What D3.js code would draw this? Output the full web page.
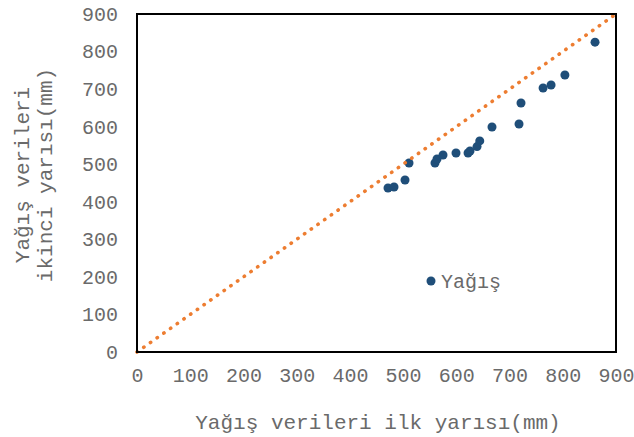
<!DOCTYPE html>
<html><head><meta charset="utf-8">
<script src="https://cdn.jsdelivr.net/npm/d3@7"></script>
<style>body{margin:0;background:#fff}svg{display:block}text{font-family:"Liberation Mono","Courier New",monospace;fill:#6a6a6a}</style>
</head><body><svg id="c" width="634" height="437"></svg>
<script>
const firstHalf  = [471.6,482.9,503.6,511.1,559.9,563.7,575.0,599.4,622.0,625.7,638.9,644.0,667.0,717.8,721.5,763.0,778.0,804.0,860.6];
const secondHalf = [436.6,439.3,457.9,503.2,503.2,513.8,524.5,529.8,529.8,535.1,547.0,562.0,599.0,607.0,663.0,703.0,711.0,737.5,825.0];
const ticks = [0,100,200,300,400,500,600,700,800,900];
const seriesName = "Yağış";
const xTitle = "Yağış verileri ilk yarısı(mm)";
const yTitle = ["Yağış verileri","ikinci yarısı(mm)"];
const refLine = [[0,0],[900,900]];

const svg = d3.select("#c");
const L=137,R=616,T=14,B=352;
const x = d3.scaleLinear().domain([0,900]).range([L,R]);
const y = d3.scaleLinear().domain([0,900]).range([B,T]);
const txt = "#6a6a6a";
const fs = 20;
const xa = svg.append("g").attr("transform",`translate(0,${B})`)
  .call(d3.axisBottom(x).tickValues(ticks).tickSize(0).tickPadding(16));
xa.select(".domain").remove();
xa.selectAll("text").style("font-size",fs+"px").attr("fill",txt).attr("font-family","Liberation Mono");
const ya = svg.append("g").attr("transform",`translate(${L},0)`)
  .call(d3.axisLeft(y).tickValues(ticks).tickSize(0).tickPadding(19));
ya.select(".domain").remove();
ya.selectAll("text").style("font-size",fs+"px").attr("fill",txt).attr("font-family","Liberation Mono");

svg.append("g").selectAll("circle").data(firstHalf).join("circle")
  .attr("cx",d=>x(d)).attr("cy",(d,i)=>y(secondHalf[i])).attr("r",4.5)
  .attr("fill","#1F4E79");

svg.append("path").datum(refLine)
  .attr("d",d3.line().x(d=>x(d[0])).y(d=>y(d[1])))
  .attr("stroke","#ED7D31").attr("stroke-width",3.6).attr("fill","none")
  .attr("stroke-linecap","round").attr("stroke-dasharray","0.3 7.9");

svg.append("rect").attr("x",L).attr("y",T).attr("width",R-L).attr("height",B-T)
  .attr("fill","none").attr("stroke","#000").attr("stroke-width",2);

svg.append("circle").attr("cx",431).attr("cy",281).attr("r",4.5).attr("fill","#1F4E79");
svg.append("text").attr("x",441).attr("y",281).attr("dy","0.35em").style("font-size",fs+"px").text(seriesName);

svg.append("text").attr("x",378).attr("y",422).attr("dy","0.35em").attr("text-anchor","middle")
  .style("font-size","21px").text(xTitle);
const yt = svg.append("text").attr("transform","translate(33,175) rotate(-90)").attr("text-anchor","middle").style("font-size","21px");
yt.append("tspan").attr("x",0).attr("y",-11).attr("dy","0.35em").text(yTitle[0]);
yt.append("tspan").attr("x",0).attr("y",12).attr("dy","0.35em").text(yTitle[1]);
</script></body></html>
